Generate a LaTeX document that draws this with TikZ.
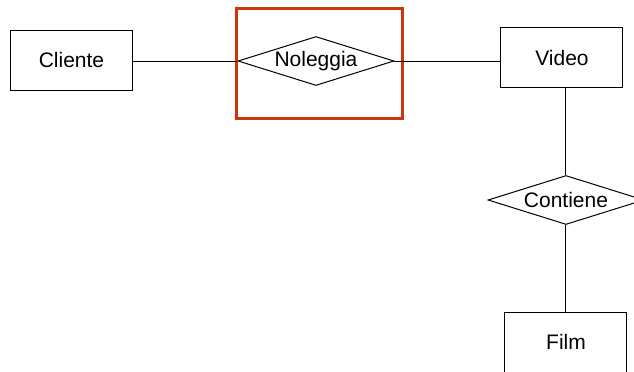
\documentclass[tikz,border=0pt]{standalone}
\usepackage{fontspec}
\setmainfont{Liberation Sans}
\usetikzlibrary{positioning,shapes}
\definecolor{evred}{RGB}{204,55,10}

\begin{document}
\begin{tikzpicture}[x=0.5pt, y=-0.5pt, font=\fontsize{10.5}{12}\selectfont, line width=0.5pt,
    ent/.style={draw,rectangle,minimum width=61pt,minimum height=30pt,inner sep=0pt},
    rel/.style={draw,diamond,minimum width=78pt,minimum height=24.5pt,inner sep=0pt},
    evid/.style={draw=evred,line width=1.5pt,minimum width=83pt,minimum height=55pt,inner sep=0pt}]
    \useasboundingbox (0,0) rectangle (634,371);

    \node[ent] (cliente) at (71.5,60) {Cliente};
    \node[rel,label=center:Noleggia] (noleggia) at (316,61) {};
    \node[ent] (video) at (562,57.5) {Video};
    \node[rel,label=center:Contiene] (contiene) at (566,200) {};
    \node[ent] (film) at (566,342) {Film};

    \node[evid] (sel) at (320,63) {};

    \draw (cliente.east |- noleggia.west) -- (noleggia.west);
    \draw (noleggia.east) -- (noleggia.east -| video.west);
    \draw (contiene.north |- video.south) -- (contiene.north);
    \draw (contiene.south) -- (film.north);
\end{tikzpicture}
\end{document}
